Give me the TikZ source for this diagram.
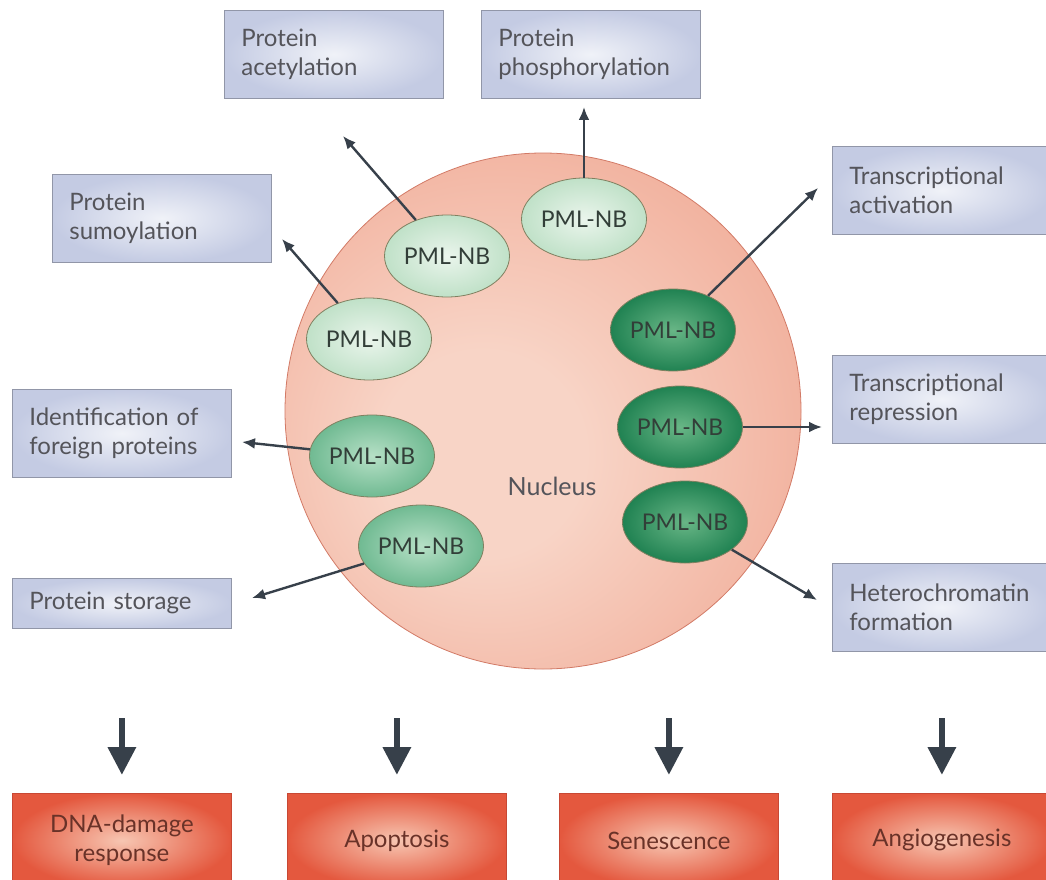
\documentclass[tikz,border=0pt]{standalone}
\usepackage{fontspec}
\setmainfont{Lato}
\usetikzlibrary{shapes.geometric,arrows.meta}
\definecolor{nucin}{RGB}{248,212,198}
\definecolor{nucout}{RGB}{236,148,124}
\definecolor{nucedge}{RGB}{210,122,102}
\definecolor{boxin}{RGB}{240,242,248}
\definecolor{boxout}{RGB}{196,203,227}
\definecolor{boxedge}{RGB}{145,150,168}
\definecolor{palein}{RGB}{234,245,236}
\definecolor{paleout}{RGB}{192,225,200}
\definecolor{midin}{RGB}{182,224,198}
\definecolor{midout}{RGB}{112,186,146}
\definecolor{darkin}{RGB}{104,182,134}
\definecolor{darkout}{RGB}{32,130,82}
\definecolor{nbedge}{RGB}{128,128,96}
\definecolor{redin}{RGB}{247,198,178}
\definecolor{redout}{RGB}{228,88,62}
\definecolor{rededge}{RGB}{200,72,52}
\definecolor{arrowgrey}{RGB}{55,64,74}
\definecolor{labelgrey}{RGB}{84,84,90}
\definecolor{nbtext}{RGB}{50,62,56}
\definecolor{redtext}{RGB}{105,50,40}
\pgfdeclareradialshading{nucleusglow}{\pgfpoint{-7bp}{-5bp}}{color(0bp)=(nucin); color(10bp)=(nucin); color(48bp)=(nucout); color(62bp)=(nucout)}
\begin{document}
\begin{tikzpicture}[x=1pt,y=-1pt,
  bluebox/.style={draw=boxedge,line width=0.8pt,shade,inner color=boxin,outer color=boxout,anchor=north west,inner xsep=17pt,inner ysep=0pt,text width=185pt,minimum height=88pt,align=left,text=labelgrey,font=\fontsize{24}{28.5}\selectfont},
  redbox/.style={draw=rededge,line width=0.8pt,shade,inner color=redin,outer color=redout,anchor=north west,minimum width=219pt,minimum height=94pt,inner sep=0pt,align=center,text=redtext,font=\fontsize{24}{28.5}\selectfont},
  pmlnb/.style={ellipse,draw=nbedge,line width=0.8pt,shade,minimum width=125pt,minimum height=82pt,inner sep=0pt,text=nbtext,font=\fontsize{23}{26}\selectfont},
  pale/.style={inner color=palein,outer color=paleout},
  mid/.style={inner color=midin,outer color=midout},
  dark/.style={inner color=darkin,outer color=darkout},
  thinarrow/.style={draw=arrowgrey,line width=2.4pt,-{Latex[length=13pt,width=11pt]}},
  bigarrow/.style={draw=arrowgrey,line width=6.5pt,-{Triangle[length=28pt,width=27pt]}}]

\useasboundingbox (0,0) rectangle (1046,880);
\clip (0,0) rectangle (1046,880);

\node (nucleus) [circle,draw=nucedge,line width=0.8pt,shading=nucleusglow,minimum size=516pt,inner sep=0pt] at (543,411) {};
\node (nuclab) [text=labelgrey,font=\fontsize{25}{28}\selectfont] at (552,486) {Nucleus};

\node (acetyl) [bluebox] at (224,10) {Protein\\acetylation};
\node (phospho) [bluebox] at (481,10) {Protein\\phosphorylation};
\node (sumo) [bluebox] at (52,174) {Protein\\sumoylation};
\node (activ) [bluebox] at (832,146) {Transcriptional\\activation};
\node (foreign) [bluebox] at (12,389) {Identification of\\foreign proteins};
\node (storage) [bluebox,minimum height=50pt] at (12,578) {Protein storage};
\node (repress) [bluebox] at (832,355) {Transcriptional\\repression};
\node (hetero) [bluebox] at (832,563) {Heterochromatin\\formation};

\node (phosphonb) [pmlnb,pale] at (584,219) {PML-NB};
\node (acetylnb) [pmlnb,pale] at (447,256) {PML-NB};
\node (sumonb) [pmlnb,pale] at (369,339) {PML-NB};
\node (foreignnb) [pmlnb,mid] at (372,456) {PML-NB};
\node (storagenb) [pmlnb,mid] at (421,546) {PML-NB};
\node (activnb) [pmlnb,dark] at (673,330) {PML-NB};
\node (repressnb) [pmlnb,dark] at (680,427) {PML-NB};
\node (heteronb) [pmlnb,dark] at (685,522) {PML-NB};

\coordinate (phosphotip) at (584,107);
\coordinate (acetyltip) at (343,136);
\coordinate (sumotip) at (282,239);
\coordinate (foreigntip) at (242,442);
\coordinate (storagetip) at (252,598);
\coordinate (activtip) at (818,188);
\coordinate (represstip) at (822,427);
\coordinate (heterotip) at (817,600);

\draw[thinarrow] (phosphonb) -- (phosphotip);
\draw[thinarrow] (acetylnb) -- (acetyltip);
\draw[thinarrow] (sumonb) -- (sumotip);
\draw[thinarrow] (foreignnb) -- (foreigntip);
\draw[thinarrow] (storagenb) -- (storagetip);
\draw[thinarrow] (activnb) -- (activtip);
\draw[thinarrow] (repressnb) -- (represstip);
\draw[thinarrow] (heteronb) -- (heterotip);

\node (dna) [redbox] at (12,793) {DNA-damage\\response};
\node (apop) [redbox] at (287,793) {Apoptosis};
\node (senes) [redbox] at (559,793) {Senescence};
\node (angio) [redbox] at (832,793) {Angiogenesis};

\draw[bigarrow] ([yshift=75pt]dna.north) -- ([yshift=18pt]dna.north);
\draw[bigarrow] ([yshift=75pt]apop.north) -- ([yshift=18pt]apop.north);
\draw[bigarrow] ([yshift=75pt]senes.north) -- ([yshift=18pt]senes.north);
\draw[bigarrow] ([yshift=75pt]angio.north) -- ([yshift=18pt]angio.north);

\end{tikzpicture}
\end{document}
